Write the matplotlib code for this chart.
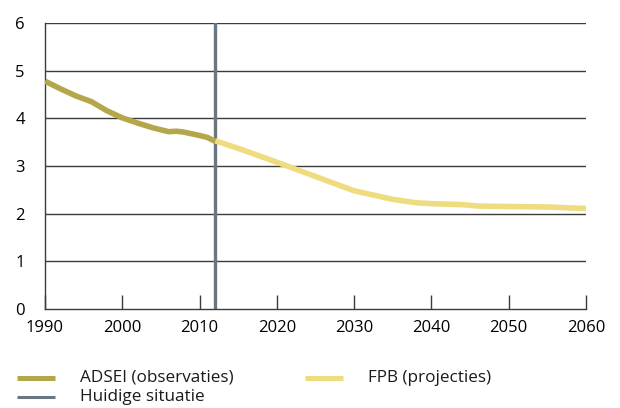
import matplotlib
matplotlib.use('Agg')
import matplotlib.pyplot as plt
from matplotlib.lines import Line2D

plt.rcParams['font.family'] = ['Open Sans', 'DejaVu Sans']

# observed values (ADSEI)
obs_years = [1990, 1992, 1994, 1996, 1998, 2000, 2002, 2004, 2006, 2007, 2008, 2010, 2011, 2012]
obs_values = [4.78, 4.62, 4.47, 4.35, 4.16, 4.01, 3.9, 3.8, 3.72, 3.73, 3.71, 3.64, 3.6, 3.52]

# projections (FPB)
proj_years = [2012, 2015, 2020, 2025, 2030, 2035, 2038, 2040, 2044, 2046, 2050, 2055, 2058, 2060]
proj_values = [3.53, 3.37, 3.08, 2.78, 2.48, 2.30, 2.23, 2.21, 2.19, 2.16, 2.15, 2.14, 2.12, 2.11]

current_year = 2012
x_ticks = [1990, 2000, 2010, 2020, 2030, 2040, 2050, 2060]
y_ticks = [0, 1, 2, 3, 4, 5, 6]

OBS_COLOR = '#b3a64b'
PROJ_COLOR = '#efdc7f'
NOW_COLOR = '#6a7781'
GRID_COLOR = '#3c3c3c'

fig = plt.figure(figsize=(6.2, 4.08), dpi=100)
ax = fig.add_axes([45 / 620, 1 - 309 / 408, 541 / 620, 286 / 408])

for y in y_ticks[1:]:
    ax.axhline(y, color=GRID_COLOR, lw=1.0, zorder=1)
ax.axvline(current_year, color=NOW_COLOR, lw=2.4, zorder=2)

ax.plot(proj_years, proj_values, color=PROJ_COLOR, lw=4, solid_capstyle='butt', zorder=3)
ax.plot(obs_years, obs_values, color=OBS_COLOR, lw=4, solid_capstyle='butt', zorder=4)

ax.set_xlim(1990, 2060)
ax.set_ylim(0, 6)
ax.set_xticks(x_ticks)
ax.set_yticks(y_ticks)
ax.tick_params(axis='x', direction='in', length=10, width=1, color=GRID_COLOR,
               pad=8, labelsize=12)
ax.tick_params(axis='y', length=0, pad=18, labelsize=12)
for lab in ax.get_yticklabels():
    lab.set_horizontalalignment('center')

for side in ['top', 'right']:
    ax.spines[side].set_visible(False)
ax.spines['left'].set_color(GRID_COLOR)
ax.spines['bottom'].set_color(GRID_COLOR)
ax.spines['left'].set_linewidth(1.0)
ax.spines['bottom'].set_linewidth(1.0)

# legend drawn by hand to match the layout
def legend_item(x0, x1, y, color, lw, label):
    fig.add_artist(Line2D([x0 / 620, x1 / 620], [1 - y / 408, 1 - y / 408],
                          color=color, lw=lw, solid_capstyle='butt'))
    fig.text((x1 + 25) / 620, 1 - y / 408, label, fontsize=12.3,
             va='center', ha='left', color='#1a1a1a')

legend_item(17, 55, 378, OBS_COLOR, 3.6, 'ADSEI (observaties)')
legend_item(305, 343, 378, PROJ_COLOR, 3.6, 'FPB (projecties)')
legend_item(17, 55, 397, NOW_COLOR, 2.2, 'Huidige situatie')

fig.savefig('out.png', dpi=100)
